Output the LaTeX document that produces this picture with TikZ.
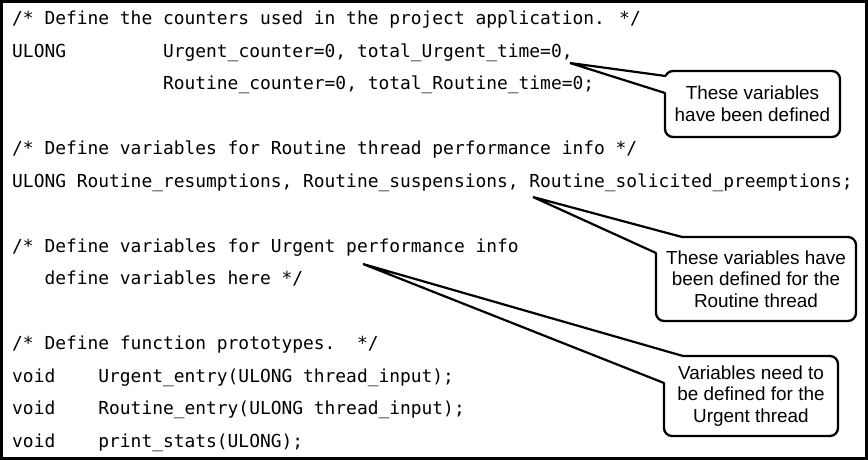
\documentclass[tikz,border=0pt]{standalone}
\usepackage{fontspec}
\setmainfont{Liberation Sans}
\newfontfamily\codefont{DejaVu Sans Mono}
\begin{document}
\begin{tikzpicture}[x=1pt,y=-1pt,
  code/.style={anchor=base west, inner sep=0pt, font=\codefont\fontsize{17.9}{20}\selectfont, text=black},
  callbox/.style={draw, line width=2.3pt, rounded corners=8pt, fill=white, inner sep=0pt, align=center, font=\fontsize{18.9}{21.6}\selectfont},
  tail/.style={line width=2.2pt, line cap=round, line join=miter},
  cover/.style={fill=white}]
\useasboundingbox (0,0) rectangle (868,460);
\draw[line width=3pt] (1.5,1.5) rectangle (866.5,458.5);

% code lines
\node[code] (l1)  at (12,25)    {/* Define the counters used in the project application. */};
\node[code] (l2)  at (12,57.5)  {ULONG~~~~~~~~~Urgent\_counter=0, total\_Urgent\_time=0,};
\node[code] (l3)  at (12,90)    {~~~~~~~~~~~~~~Routine\_counter=0, total\_Routine\_time=0;};
\node[code] (l4)  at (12,154.5) {/* Define variables for Routine thread performance info */};
\node[code] (l5)  at (12,187)   {ULONG Routine\_resumptions, Routine\_suspensions, Routine\_solicited\_preemptions;};
\node[code] (l6)  at (12,252)   {/* Define variables for Urgent performance info};
\node[code] (l7)  at (12,284.5) {~~~define variables here */};
\node[code] (l8)  at (12,349.5) {/* Define function prototypes.~~*/};
\node[code] (l9)  at (12,382)   {void~~~~Urgent\_entry(ULONG thread\_input);};
\node[code] (l10) at (12,414.5) {void~~~~Routine\_entry(ULONG thread\_input);};
\node[code] (l11) at (12,447)   {void~~~~print\_stats(ULONG);};

% callout 1
\node[callbox, minimum width=175pt, minimum height=66pt] (c1) at (752.5,104) {These variables\\have been defined};
\coordinate (t1) at (570,63);
\coordinate (a1) at (665.6,76);
\coordinate (b1) at (665,93);
\fill[cover] (t1) -- (a1) -- ++(3.5,0) -- (668.5,93) -- (b1) -- cycle;
\draw[tail] (a1) -- (t1) -- (b1);

% callout 2
\node[callbox, minimum width=200pt, minimum height=84pt] (c2) at (756,279) {These variables have\\been defined for the\\Routine thread};
\coordinate (t2) at (533,197);
\coordinate (a2) at (682,237);
\coordinate (b2) at (656,253);
\fill[cover] (t2) -- (a2) -- (682,240) -- (659,240) -- (659,253) -- (b2) -- cycle;
\draw[tail] (a2) -- (t2) -- (b2);

% callout 3
\node[callbox, minimum width=174pt, minimum height=80pt] (c3) at (751,396) {Variables need to\\be defined for the\\Urgent thread};
\coordinate (t3) at (363,264);
\coordinate (a3) at (683,356);
\coordinate (b3) at (664,383);
\fill[cover] (t3) -- (a3) -- (683,359) -- (667,359) -- (667,383) -- (b3) -- cycle;
\draw[tail] (a3) -- (t3) -- (b3);
\end{tikzpicture}
\end{document}
